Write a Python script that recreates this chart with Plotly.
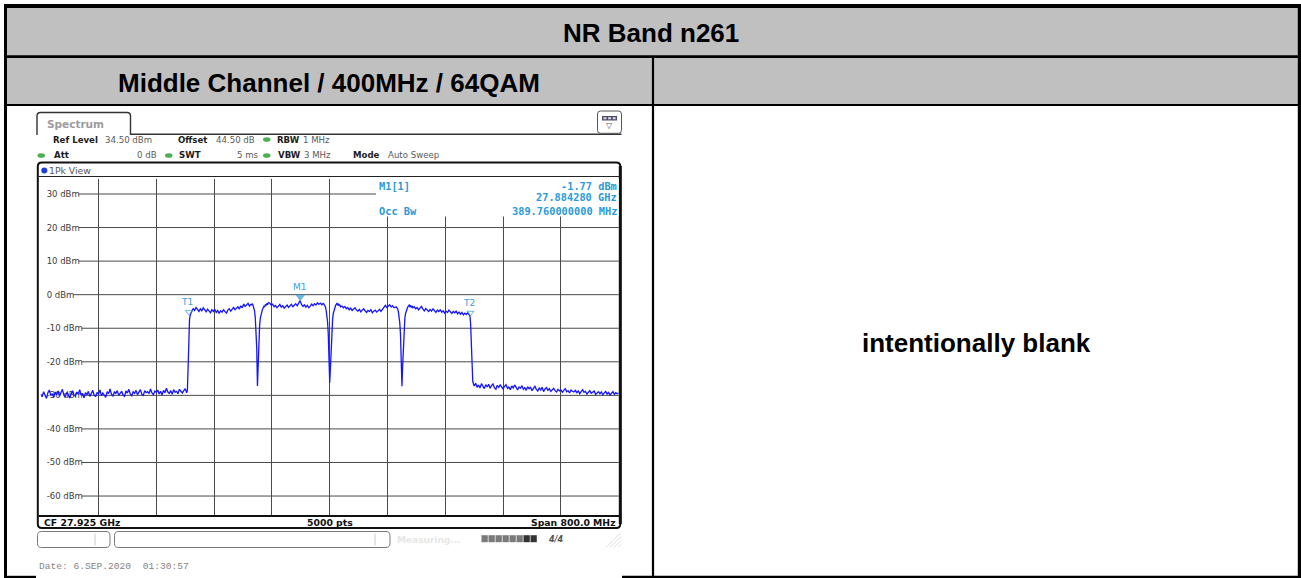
import numpy as np
import plotly.graph_objects as go

# ---------------- data ----------------
table_title = "NR Band n261"
cell_title = "Middle Channel / 400MHz / 64QAM"
blank_text = "intentionally blank"

center_ghz = 27.925
span_mhz = 800.0
ref_level_dbm = 34.5
sweep_points = 5000
occ_bw_mhz = 389.76

y_tick_vals = [30, 20, 10, 0, -10, -20, -30, -40, -50, -60]
y_tick_text = ["30 dBm", "20 dBm", "10 dBm", "0 dBm", "-10 dBm", "-20 dBm",
               "-30 dBm", "-40 dBm", "-50 dBm", "-60 dBm"]

# trace levels (dBm), read piecewise off the screenshot
floor_left = [
    -29.6, -30.4, -28.9, -29.8, -30.9, -29.2, -28.4, -30.1, -29.5, -30.6,
    -29.0, -29.9, -28.7, -30.3, -29.4, -28.2, -29.8, -30.5, -29.1, -29.7,
    -30.8, -29.3, -28.6, -29.9, -30.2, -29.0, -29.6, -28.3, -30.0, -29.4,
    -30.7, -29.2, -29.8, -28.8, -30.3, -29.5, -28.5, -29.9, -30.4, -29.1,
    -29.6, -28.4, -30.1, -29.3, -29.8, -30.6, -28.9, -29.5, -28.1, -29.7,
    -30.2, -29.0, -29.4, -28.6, -30.0, -29.2, -28.8, -29.9, -30.3, -28.7,
    -29.3, -28.2, -29.6, -30.1, -28.9, -29.4, -28.5, -29.8, -29.0, -28.3,
    -29.7, -30.0, -28.6, -29.2, -28.9, -29.5, -28.1, -29.3, -29.8, -28.7,
    -29.1, -28.4, -29.6, -28.8, -29.9, -28.5, -29.2, -27.9, -29.0, -29.4,
    -28.6, -29.7, -28.3, -29.1, -28.8, -29.5, -28.2, -28.9, -29.3, -28.6,
    -28.0, -29.2]
edge_rise = [-28.6, -22.0, -11.5, -7.4, -6.0]
band1 = [
    -5.2, -4.1, -4.7, -3.8, -4.4, -5.0, -4.2, -4.8, -3.9, -4.6,
    -5.1, -4.3, -4.9, -5.4, -4.5, -5.0, -4.4, -5.3, -4.7, -5.6,
    -4.8, -5.2, -4.5, -4.9, -5.5, -4.6, -4.2, -4.9, -4.4, -3.8,
    -4.5, -4.0, -3.6, -4.3, -3.3, -3.9, -2.8, -3.5, -3.1, -2.6,
    -3.4, -2.9]
dip1 = [
    -3.0, -2.7, -3.3, -3.9, -4.8, -6.9, -10.2, -15.8, -27.2, -20.4,
    -12.6, -9.1, -7.0, -5.8, -5.0, -4.3, -3.9, -3.4, -3.7, -2.9,
    -3.2, -2.6, -3.0, -2.4]
band2 = [
    -2.5, -3.1, -2.8, -3.6, -3.2, -3.9, -3.4, -2.9, -3.7, -3.3,
    -4.0, -3.5, -3.1, -3.8, -3.4, -2.9, -3.6, -3.2, -2.7, -3.3,
    -2.6, -1.77, -2.9, -3.5, -3.0, -3.7, -3.2, -3.9, -3.4, -2.8,
    -3.3, -2.7, -3.1, -2.4, -2.9, -2.5, -3.0, -2.6]
dip2 = [
    -2.8, -3.2, -3.6, -4.5, -5.9, -8.0, -11.6, -17.0, -26.2, -22.0,
    -15.1, -10.2, -7.4, -5.6, -4.6, -3.9, -3.3, -2.9, -2.6, -3.0,
    -2.7, -3.3, -3.0, -3.6]
band3 = [
    -3.4, -3.9, -3.5, -4.2, -3.8, -4.5, -4.0, -4.7, -4.3, -3.9,
    -4.6, -4.9, -4.4, -5.1, -4.6, -4.2, -4.8, -5.3, -4.7, -5.0,
    -4.5, -5.4, -4.9, -4.6, -5.2, -4.7, -4.4, -5.0, -4.3, -3.6,
    -3.2, -3.8, -3.4, -3.0, -3.7, -3.3, -3.9, -3.5]
dip3 = [
    -3.6, -3.9, -4.2, -5.0, -6.3, -8.4, -11.9, -17.5, -27.3, -21.0,
    -14.2, -9.6, -7.1, -5.6, -4.7, -4.1, -3.7, -3.4, -3.1, -3.5,
    -3.2, -3.8, -3.4, -3.9]
band4 = [
    -3.6, -4.2, -3.8, -4.5, -4.0, -3.5, -4.3, -4.8, -4.1, -4.6,
    -5.0, -4.4, -4.9, -4.2, -4.7, -5.3, -4.6, -5.0, -4.5, -5.2,
    -4.8, -5.5, -4.9, -5.3, -4.6, -5.1, -5.6, -5.0, -5.4, -4.9,
    -5.7, -5.2, -5.8, -5.3, -6.0, -5.5, -5.9, -5.4, -5.8]
edge_fall = [-6.2, -8.5, -14.0, -22.5, -25.8, -26.6]
floor_right = [
    -27.2, -26.4, -27.6, -26.9, -27.8, -26.5, -27.3, -28.0, -26.8, -27.5,
    -26.7, -27.9, -27.1, -26.6, -27.7, -28.2, -27.0, -27.6, -26.9, -27.4,
    -28.1, -27.3, -26.8, -27.9, -27.5, -28.3, -27.2, -27.8, -26.9, -27.6,
    -28.4, -27.5, -27.9, -27.1, -28.2, -27.7, -28.5, -27.4, -28.0, -27.6,
    -28.6, -27.9, -27.3, -28.2, -28.7, -27.8, -28.4, -27.6, -28.9, -28.1,
    -27.7, -28.5, -28.0, -28.8, -28.3, -27.9, -28.6, -29.0, -28.2, -28.7,
    -28.4, -29.1, -28.5, -28.0, -28.9, -28.6, -29.3, -28.4, -28.8, -29.0,
    -28.5, -29.2, -28.7, -29.5, -28.9, -28.3, -29.1, -28.8, -29.6, -29.0,
    -28.6, -29.4, -29.1, -28.7, -29.7, -29.2, -28.9, -29.5, -29.0, -29.8,
    -29.3, -28.8, -29.6, -29.1, -29.9, -29.4, -28.9, -29.7, -29.2, -29.5,
    -29.3]

# (start GHz, stop GHz, levels) for each stretch of the sweep
segments = [
    (27.525, 27.727, floor_left),
    (27.728, 27.732, edge_rise),
    (27.734, 27.816, band1),
    (27.817, 27.840, dip1),
    (27.842, 27.916, band2),
    (27.917, 27.940, dip2),
    (27.942, 28.016, band3),
    (28.017, 28.040, dip3),
    (28.042, 28.118, band4),
    (28.119, 28.124, edge_fall),
    (28.125, 28.325, floor_right),
]

marker_names = ["T1", "T2", "M1"]
marker_freqs = [27.73012, 28.11988, 27.88428]
marker_levels = [-6.3, -6.5, -1.77]
marker_filled = [False, False, True]

# ---------------- helpers (pixel -> paper) ----------------
W, H = 1301, 578


def px(x):
    return x / W


def py(y):
    return 1 - y / H


shapes = []
annotations = []


def rect(x0, y0, x1, y1, fill=None, color=None, lw=0, layer="above"):
    shapes.append(dict(type="rect", xref="paper", yref="paper",
                       x0=px(x0), x1=px(x1), y0=py(y1), y1=py(y0),
                       fillcolor=fill if fill else "rgba(0,0,0,0)",
                       line=dict(color=color if color else "rgba(0,0,0,0)", width=lw),
                       layer=layer))


def seg_line(x0, y0, x1, y1, color, lw, layer="above"):
    shapes.append(dict(type="line", xref="paper", yref="paper",
                       x0=px(x0), x1=px(x1), y0=py(y0), y1=py(y1),
                       line=dict(color=color, width=lw), layer=layer))


def ellipse(x0, y0, x1, y1, fill):
    shapes.append(dict(type="circle", xref="paper", yref="paper",
                       x0=px(x0), x1=px(x1), y0=py(y1), y1=py(y0),
                       fillcolor=fill, line=dict(width=0), layer="above"))


def P(x, y):
    return f"{px(x):.6f},{py(y):.6f}"


def path(d, color, lw, fill=None):
    shapes.append(dict(type="path", xref="paper", yref="paper", path=d,
                       line=dict(color=color, width=lw),
                       fillcolor=fill if fill else "rgba(0,0,0,0)", layer="above"))


def rrect(x0, y0, x1, y1, r, color, lw, fill=None):
    d = (f"M {P(x0 + r, y0)} L {P(x1 - r, y0)} Q {P(x1, y0)} {P(x1, y0 + r)} "
         f"L {P(x1, y1 - r)} Q {P(x1, y1)} {P(x1 - r, y1)} "
         f"L {P(x0 + r, y1)} Q {P(x0, y1)} {P(x0, y1 - r)} "
         f"L {P(x0, y0 + r)} Q {P(x0, y0)} {P(x0 + r, y0)} Z")
    path(d, color, lw, fill)


def text(x, y, s, size, color, family, bold=False, xanchor="left", yanchor="middle"):
    annotations.append(dict(x=px(x), y=py(y), xref="paper", yref="paper",
                            text=f"<b>{s}</b>" if bold else s, showarrow=False,
                            xanchor=xanchor, yanchor=yanchor, borderpad=0,
                            font=dict(size=size, color=color, family=family)))


ARIAL = "Liberation Sans, Arial, sans-serif"
UI = "DejaVu Sans, Verdana, sans-serif"
MONO = "DejaVu Sans Mono, monospace"
CMONO = "Liberation Mono, Courier New, monospace"
GRID = "#4a4a4a"
MK = "#2a9ad8"

# ---------------- table ----------------
rect(7, 8, 1298, 56, fill="#c0c0c0", layer="below")
rect(7, 57, 1298, 104.5, fill="#c0c0c0", layer="below")

# ---------------- spectrum axes placement ----------------
gx0, gx1 = 40.7, 618.7
gy0, gy1 = 178.9, 514.5
f_lo = center_ghz - span_mhz / 2000.0
f_hi = center_ghz + span_mhz / 2000.0

# horizontal grid lines starting right after each dBm label
char_w = {"-": 0.361, " ": 0.318, "d": 0.635, "B": 0.686, "m": 0.974}
label_x0 = 44.5
tick_size = 8.5
for v, t in zip(y_tick_vals, y_tick_text):
    w = sum(char_w.get(c, 0.636) for c in t) * tick_size
    shapes.append(dict(type="line", xref="paper", yref="y",
                       x0=px(label_x0 + w + 1), x1=px(gx1), y0=v, y1=v,
                       line=dict(color=GRID, width=1), layer="below"))

# ---------------- trace ----------------
freqs = np.concatenate([np.linspace(a, b, len(v)) for a, b, v in segments])
levels = np.concatenate([np.array(v, dtype=float) for _, _, v in segments])

fig = go.Figure()
fig.add_trace(go.Scatter(x=freqs, y=levels, mode="lines",
                         line=dict(color="#1414ff", width=1.3),
                         hoverinfo="skip", showlegend=False))

mk_y = [lv + 1.1 for lv in marker_levels]
fig.add_trace(go.Scatter(
    x=marker_freqs, y=mk_y, mode="markers",
    marker=dict(symbol=["triangle-down" if f else "triangle-down-open" for f in marker_filled],
                size=[7 if f else 6 for f in marker_filled], color=MK,
                line=dict(color=MK, width=1)),
    hoverinfo="skip", showlegend=False))
for name, fq, lv in zip(marker_names, marker_freqs, mk_y):
    annotations.append(dict(x=fq, y=lv, xref="x", yref="y", text=name, showarrow=False,
                            xanchor="center", yanchor="bottom", yshift=3,
                            xshift=-2 if name != "M1" else 0,
                            font=dict(size=9, color="#3aa0dc", family=UI)))

# ---------------- screenshot chrome ----------------
# tab + baseline
path(f"M {P(37, 135)} L {P(37, 116)} Q {P(37, 112.5)} {P(40.5, 112.5)} "
     f"L {P(127, 112.5)} Q {P(130.5, 112.5)} {P(130.5, 116)} L {P(130.5, 134.3)} "
     f"L {P(621.5, 134.3)}", "#333333", 1.4)
text(45.5, 124, "Spectrum", 10.5, "#9c9c9c", UI, bold=True)
# icon box
rrect(597.5, 111, 621.5, 133.3, 3, "#555555", 1, fill="#ffffff")
rect(602, 116, 617, 120.5, fill="#4b4b66")
for k in range(3):
    rect(603.5 + k * 4.6, 117.2, 606.5 + k * 4.6, 119.3, fill="#d8d8e8")
text(609.7, 125.8, "▽", 8, "#555555", UI, xanchor="center")

# settings lines
B1, VAL = "#1c1c1c", "#5a5a5a"
L1, L2 = 139.5, 155.5
FS = 8.6
text(52, L1, "Ref Level", FS, B1, UI, bold=True)
text(104, L1, "34.50 dBm", FS, VAL, UI)
text(176.5, L1, "Offset", FS, B1, UI, bold=True)
text(215, L1, "44.50 dB", FS, VAL, UI)
ellipse(263, 137.2, 270.5, 141.8, "#4caf50")
text(276, L1, "RBW", FS, B1, UI, bold=True)
text(302, L1, "1 MHz", FS, VAL, UI)
ellipse(37.5, 153.2, 45, 157.8, "#4caf50")
text(52.5, L2, "Att", FS, B1, UI, bold=True)
text(158, L2, "0 dB", FS, VAL, UI, xanchor="right")
ellipse(165, 153.2, 172.5, 157.8, "#4caf50")
text(177.5, L2, "SWT", FS, B1, UI, bold=True)
text(260, L2, "5 ms", FS, VAL, UI, xanchor="right")
ellipse(263, 153.2, 270.5, 157.8, "#4caf50")
text(276.5, L2, "VBW", FS, B1, UI, bold=True)
text(302.5, L2, "3 MHz", FS, VAL, UI)
text(351.5, L2, "Mode", FS, B1, UI, bold=True)
text(386.5, L2, "Auto Sweep", FS, VAL, UI)

# graph frame
rrect(37.8, 162.5, 620.3, 528, 4, "#111111", 2)
seg_line(620.3, 166, 620.3, 524, "#111111", 3)
seg_line(38.5, 176.5, 619.5, 176.5, "#222222", 1.2)
ellipse(41.3, 167.4, 47.3, 173.4, "#1a3fd6")
text(47.5, 170.3, "1Pk View", 9.3, "#555555", UI)
seg_line(38.5, 516, 619.5, 516, "#111111", 2)
text(43, 522.2, f"CF {center_ghz:.3f} GHz", 9.3, "#111111", UI, bold=True)
text((gx0 + gx1) / 2, 522.2, f"{sweep_points} pts", 9.3, "#111111", UI, bold=True, xanchor="center")
text(617, 522.2, f"Span {span_mhz:.1f} MHz", 9.3, "#111111", UI, bold=True, xanchor="right")

# marker info box
rect(376, 179, 618.6, 216.5, fill="#ffffff")
m1 = marker_names.index("M1")
text(378, 185.5, "M1[1]", 10.3, MK, MONO, bold=True)
text(617.5, 185.5, f"{marker_levels[m1]:.2f} dBm", 10.3, MK, MONO, bold=True, xanchor="right")
text(617.5, 197.5, f"{marker_freqs[m1]:.6f} GHz", 10.3, MK, MONO, bold=True, xanchor="right")
text(378, 211, "Occ Bw", 10.3, MK, MONO, bold=True)
text(617.5, 211, f"{occ_bw_mhz:.9f} MHz", 10.3, MK, MONO, bold=True, xanchor="right")

# status bar
rrect(37.5, 531.5, 110, 547.5, 4, "#777777", 1)
seg_line(95, 533.5, 95, 545.5, "#c8c8c8", 1)
rrect(114.5, 531.5, 390, 547.5, 4, "#777777", 1)
seg_line(375, 533.5, 375, 545.5, "#c8c8c8", 1)
text(396, 539.5, "<b>Measuring...</b>", 9, "#e6e6e6", UI)
for k in range(8):
    rect(481.5 + k * 7, 535.2, 487.8 + k * 7, 542.2, fill="#333333" if k >= 6 else "#7a7a7a")
text(547, 539, "<b><i>4/4</i></b>", 8, "#555555", UI)
for k in range(4):
    seg_line(606 + k * 4, 547.5, 621, 532.5 + k * 4, "#d4d4d4", 0.8)
text(37.5, 566, "Date: 6.SEP.2020  01:30:57", 9.6, "#858585", CMONO)

# table borders (above everything)
seg_line(4, 6, 1301, 6, "#000000", 4)
seg_line(5.5, 4, 5.5, 578, "#000000", 3)
seg_line(1299.4, 4, 1299.4, 578, "#000000", 3.2)
seg_line(4, 577, 36, 577, "#000000", 2.4)
seg_line(622, 577, 1301, 577, "#000000", 2.4)
seg_line(4, 56.7, 1301, 56.7, "#000000", 2.7)
seg_line(4, 105, 1301, 105, "#000000", 2.2)
seg_line(653, 56.7, 653, 578, "#000000", 2.2)

# table texts
text(651.4, 32.5, table_title, 26, "#000000", ARIAL, bold=True, xanchor="center")
text(329.2, 83, cell_title, 26, "#000000", ARIAL, bold=True, xanchor="center")
text(976.5, 343.5, blank_text, 26, "#000000", ARIAL, bold=True, xanchor="center")

fig.update_layout(
    width=W, height=H, autosize=False,
    margin=dict(l=0, r=0, t=0, b=0, pad=0),
    paper_bgcolor="#ffffff", plot_bgcolor="rgba(0,0,0,0)",
    showlegend=False, shapes=shapes, annotations=annotations,
    xaxis=dict(domain=[px(gx0), px(gx1)], range=[f_lo, f_hi],
               tick0=f_lo, dtick=span_mhz / 10000.0, showticklabels=False,
               showgrid=True, gridcolor=GRID, gridwidth=1, zeroline=False,
               showline=False, ticks="", fixedrange=True),
    yaxis=dict(domain=[py(gy1), py(gy0)], range=[ref_level_dbm - 100, ref_level_dbm],
               tickmode="array", tickvals=y_tick_vals, ticktext=y_tick_text,
               ticklabelposition="inside", ticks="", showgrid=False, zeroline=False,
               showline=False, layer="below traces", ticklabelstandoff=3,
               tickfont=dict(size=tick_size, color="#3c3c3c", family=UI), fixedrange=True),
)

fig.write_html("out.html", include_plotlyjs=True, config={"displayModeBar": False},
               post_script="document.body.style.margin='0';document.body.style.overflow='hidden';")
